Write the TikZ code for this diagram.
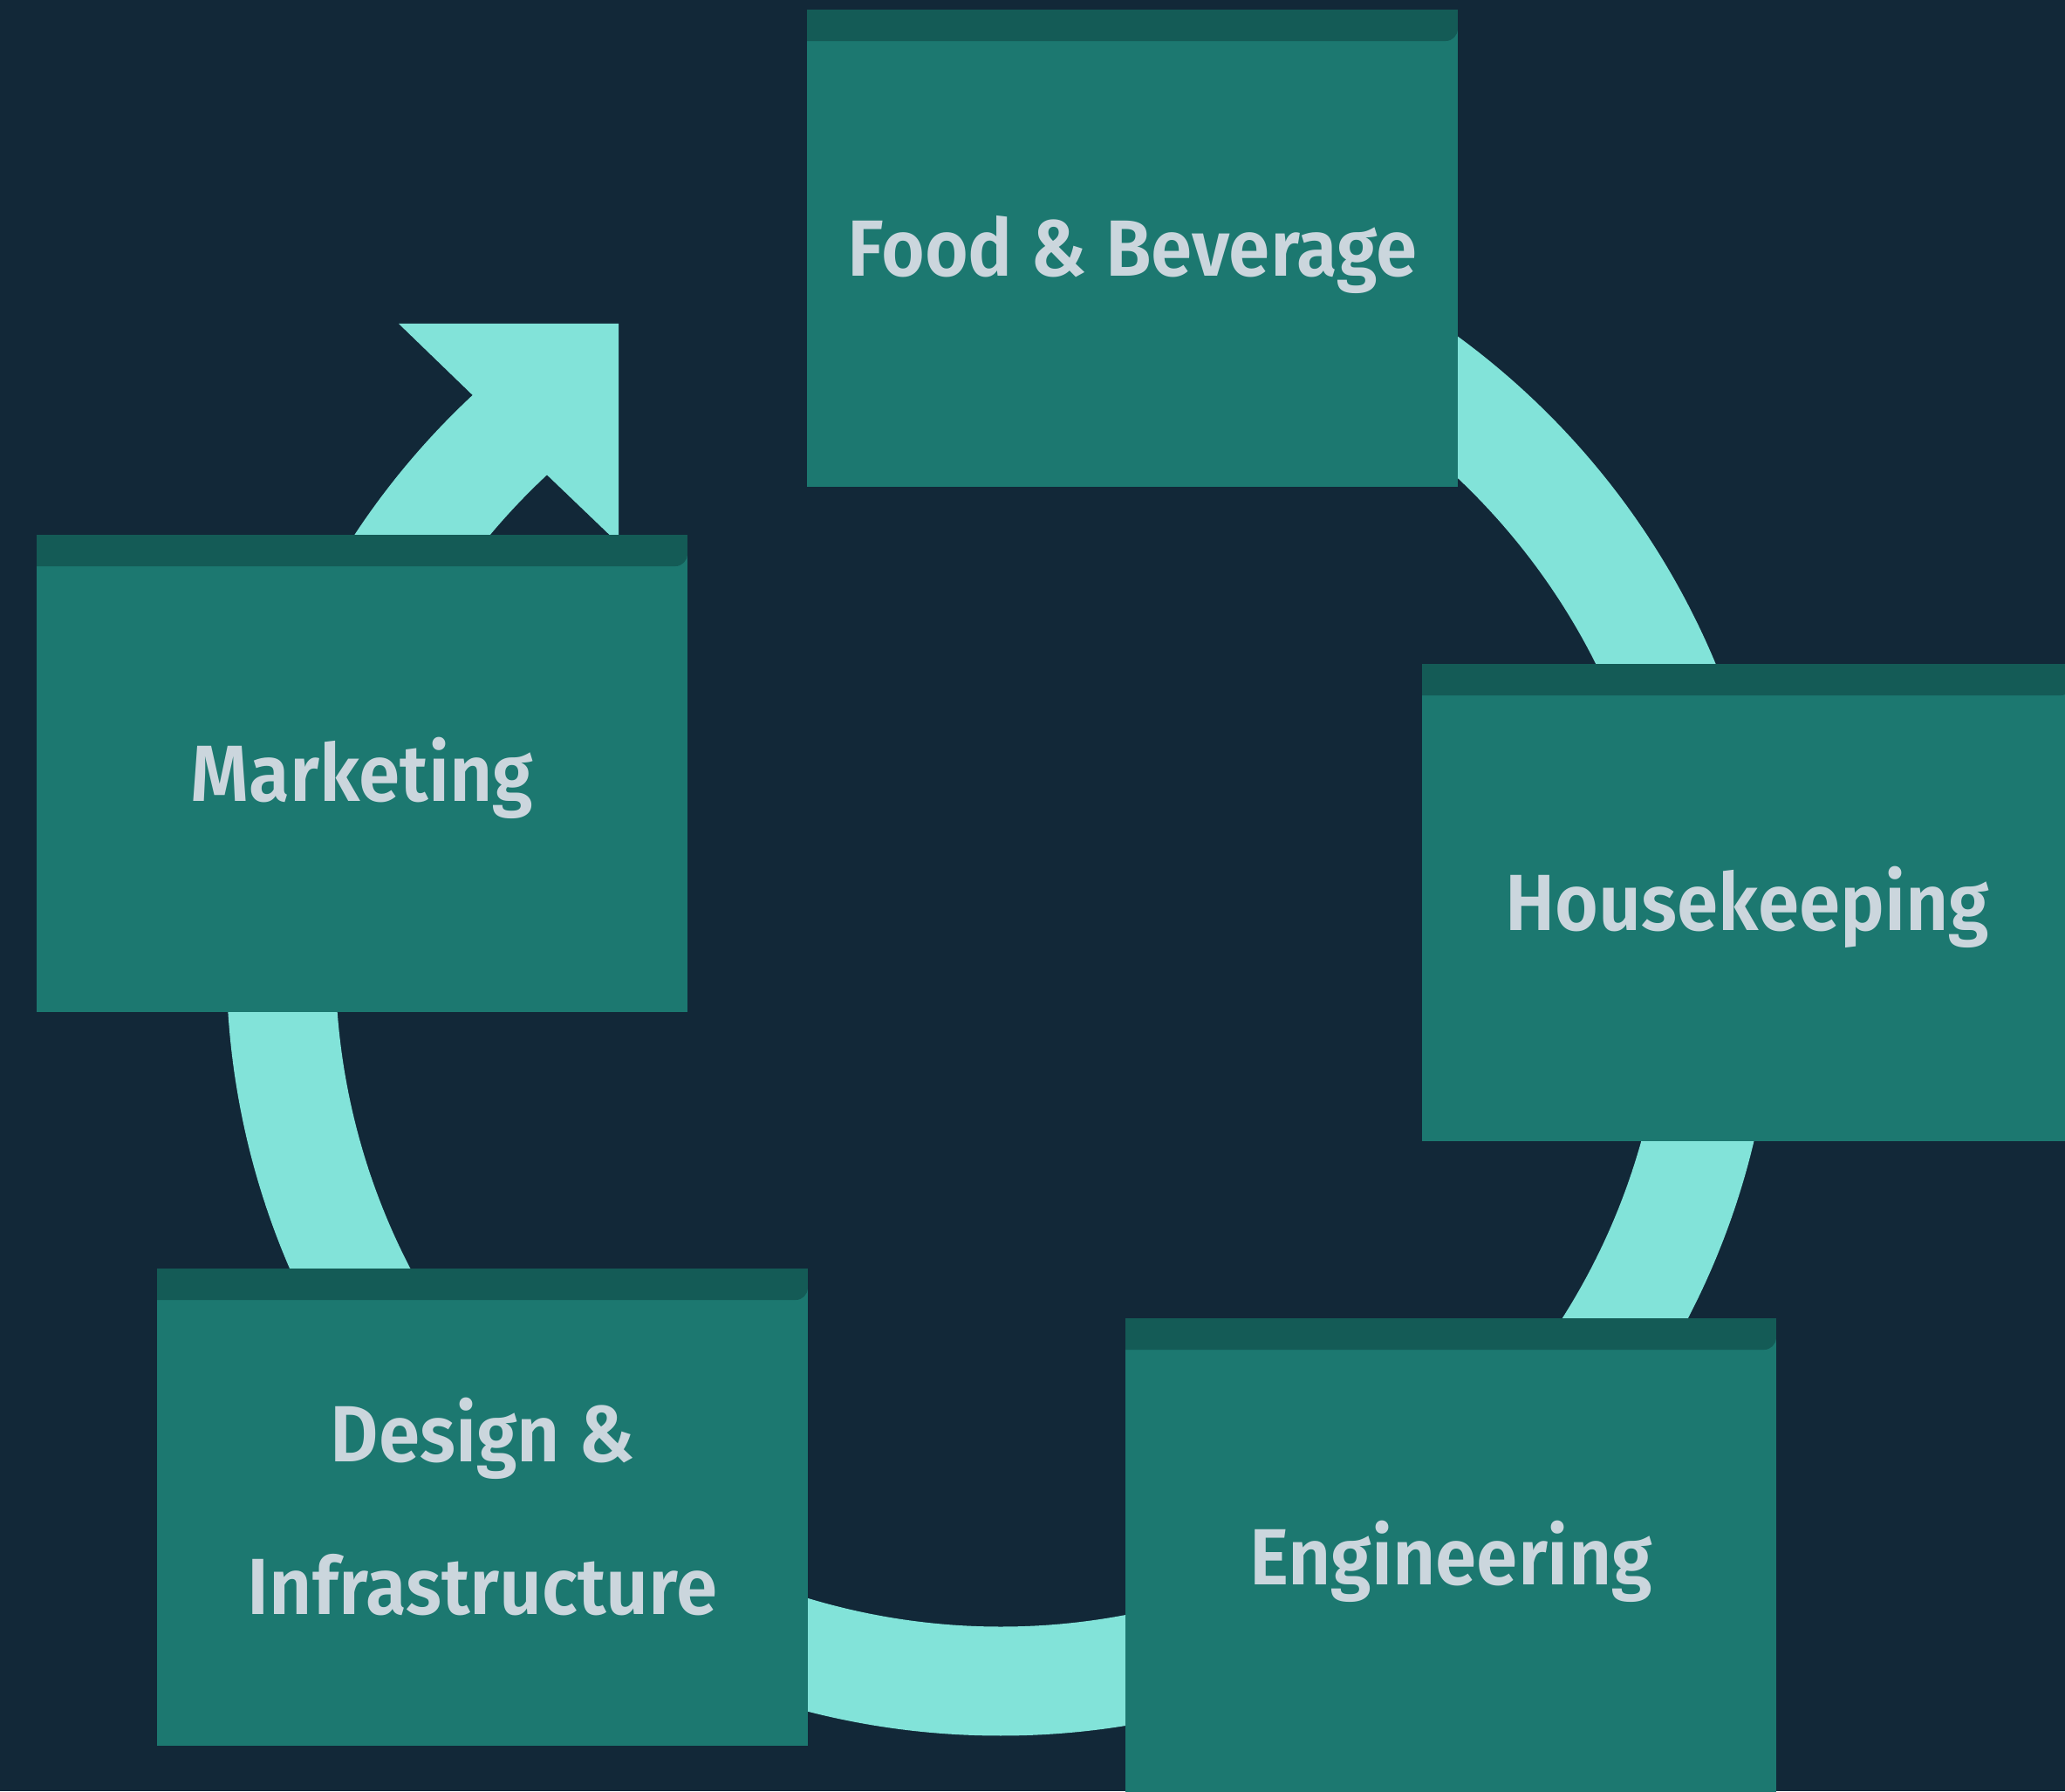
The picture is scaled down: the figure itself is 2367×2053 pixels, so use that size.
\documentclass[tikz,border=0pt]{standalone}
\usepackage{fontspec}
\newfontfamily\deptfont{Fira Sans SemiBold}[FakeStretch=0.935]
\definecolor{bgcol}{HTML}{122838}
\definecolor{bodycol}{HTML}{1C7870}
\definecolor{tabcol}{HTML}{145B56}
\definecolor{ringcol}{HTML}{82E3D9}
\definecolor{txtcol}{HTML}{CBD6DD}
\tikzset{
  dept/.style={rectangle, fill=bodycol, inner sep=0pt, outer sep=0pt,
    minimum width=14.92cm, minimum height=10.94cm,
    text=txtcol, align=center,
    font=\deptfont\fontsize{52}{99.6}\selectfont,
    text height=36pt, text depth=0pt,
    path picture={
      \fill[tabcol] (path picture bounding box.north west)
        -- (path picture bounding box.north east)
        -- ([yshift=-0.44cm]path picture bounding box.north east)
        arc[start angle=0, end angle=-90, radius=0.28cm]
        -- ([yshift=-0.72cm]path picture bounding box.north west) -- cycle;
    }},
  twoline/.style={text height={}, text depth={}},
  cyclearrow/.style={fill=ringcol}
}
\begin{document}
\begin{tikzpicture}[x=0.02cm, y=0.02cm]
  \fill[bgcol] (0,0) rectangle (2367,2053);
  \useasboundingbox (0,0) rectangle (2367,2053);
  % cycle arrow (one filled shape: ring segment plus head)
  \coordinate (c) at (1147,951);
  \coordinate (h1) at (457,1682);
  \coordinate (h2) at (709,1682);
  \coordinate (h3) at (709,1430);
  \fill[cyclearrow] ([shift={(90:887.5)}]c)
      arc[start angle=90, end angle=-227, radius=887.5]
      -- (h1) -- (h2) -- (h3)
      -- ([shift={(-227:762.5)}]c)
      arc[start angle=-227, end angle=90, radius=762.5] -- cycle;
  % departments
  \node[dept] (fb) at (1298,1768.5) {Food \& Beverage};
  \node[dept] (mk) at (415,1166.5) {Marketing};
  \node[dept] (hk) at (2003,1018.5) {Housekeeping};
  \node[dept] (en) at (1663,268.5) {Engineering};
  \node[dept, twoline] (di) at (553,325.5) {Design \&\\Infrastructure};
\end{tikzpicture}
\end{document}
